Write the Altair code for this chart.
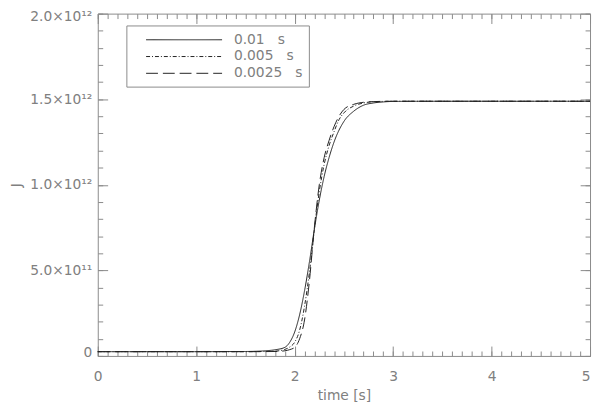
import altair as alt
import pandas as pd

# ---- data ----
series = ["0.01\u00a0\u00a0\u00a0s", "0.005\u00a0\u00a0\u00a0s",
          "0.0025\u00a0\u00a0\u00a0s"]

t_001 = [0, 1.0, 1.5, 1.7, 1.8, 1.9, 1.95, 2.0, 2.05, 2.1, 2.15, 2.2, 2.25, 2.3,
         2.35, 2.4, 2.5, 2.6, 2.7, 2.8, 2.9, 3.0, 3.5, 4.0, 5.0]
j_001 = [0.025, 0.025, 0.026, 0.03, 0.036, 0.05, 0.08, 0.14, 0.24, 0.38, 0.55,
         0.74, 0.91, 1.05, 1.16, 1.25, 1.37, 1.43, 1.465, 1.478, 1.484, 1.487,
         1.488, 1.488, 1.488]

t_0005 = [0, 1.0, 1.5, 1.8, 1.9, 1.95, 2.0, 2.05, 2.1, 2.15, 2.2, 2.25, 2.3, 2.35,
          2.4, 2.45, 2.5, 2.6, 2.7, 2.8, 3.0, 3.5, 5.0]
j_0005 = [0.025, 0.025, 0.025, 0.028, 0.038, 0.052, 0.08, 0.15, 0.29, 0.49, 0.74,
          0.96, 1.12, 1.23, 1.31, 1.38, 1.42, 1.46, 1.478, 1.485, 1.488, 1.488, 1.488]

t_00025 = [0, 1.0, 1.5, 1.8, 1.9, 1.95, 2.0, 2.05, 2.1, 2.15, 2.2, 2.25, 2.3, 2.35,
           2.4, 2.45, 2.5, 2.6, 2.7, 2.8, 3.0, 3.5, 5.0]
j_00025 = [0.025, 0.025, 0.025, 0.026, 0.03, 0.037, 0.05, 0.1, 0.21, 0.44, 0.75,
           1.0, 1.16, 1.26, 1.34, 1.4, 1.44, 1.47, 1.482, 1.486, 1.488, 1.488, 1.488]

x_major = [0, 1, 2, 3, 4, 5]
x_minor = [round(i * 0.1, 1) for i in range(51)]
y_major = [0, 5e11, 1e12, 1.5e12, 2e12]
y_minor = [i * 1e11 for i in range(21)]
y_labels = ["0", "5.0×10¹¹", "1.0×10¹²", "1.5×10¹²", "2.0×10¹²"]

rows = []
for name, ts, js in [(series[0], t_001, j_001), (series[1], t_0005, j_0005),
                     (series[2], t_00025, j_00025)]:
    for t, j in zip(ts, js):
        rows.append({"t": t, "J": j * 1e12, "series": name})
df = pd.DataFrame(rows)

FONT = "DejaVu Sans"
TXT = "#808080"
AX = "#8a8a8a"

ylab_expr = ""
for v, lab in zip(y_major, y_labels):
    ylab_expr += f"datum.value == {v:.0f} ? '{lab}' : "
ylab_expr += "''"

xs = alt.Scale(domain=[0, 5], nice=False, zero=False)
ys = alt.Scale(domain=[0, 2e12], nice=False, zero=False)

common = dict(domain=False, grid=False, tickColor=AX, tickWidth=1,
              labelFont=FONT, labelFontSize=14, labelColor=TXT,
              titleFont=FONT, titleFontSize=14, titleColor=TXT,
              titleFontWeight="normal")

def ax(orient, values, size, labels=False, **kw):
    return alt.Axis(orient=orient, values=values, tickSize=size, offset=-size,
                    labels=labels, **common, **kw)

base = alt.Chart(df)

SYM_R = 7.7  # sqrt(size)/2 -> custom path M-5,0H5 gives a 77px line
lines = base.mark_line(strokeWidth=1, interpolate="monotone").encode(
    x=alt.X("t:Q", scale=xs,
            axis=ax("bottom", x_major, 10, labels=True, labelPadding=14,
                    labelFlush=False,
                    labelAlign=alt.ExprRef(expr="datum.value == 5 ? 'right' : 'center'"),
                    format="d", title="time [s]", titlePadding=5)),
    y=alt.Y("J:Q", scale=ys,
            axis=ax("left", y_major, 10, labels=True, labelPadding=6,
                    labelFlush=True, labelFlushOffset=4,
                    labelExpr=ylab_expr, title="J", titlePadding=6)),
    stroke=alt.value("#222222"),
    strokeDash=alt.StrokeDash(
        "series:N",
        scale=alt.Scale(domain=series, range=[[1, 0], [4, 2, 1, 2], [12, 5]]),
        legend=alt.Legend(title=None, orient="none", legendX=29, legendY=12,
                          symbolType="M-5,0H5", symbolSize=(2 * SYM_R) ** 2,
                          symbolStrokeWidth=1, symbolStrokeColor="#222222",
                          labelFont=FONT, labelFontSize=14, labelColor=TXT,
                          strokeColor=AX, padding=6, rowPadding=1,
                          symbolOffset=44, labelOffset=42)),
    detail="series:N",
)

def ghost(xa, ya):
    return base.mark_line(strokeOpacity=0).encode(
        x=alt.X("t:Q", scale=xs, axis=xa),
        y=alt.Y("J:Q", scale=ys, axis=ya),
        detail="series:N",
    )

g1 = ghost(ax("bottom", x_minor, 5, title=""), ax("left", y_minor, 5, title=""))
g2 = ghost(ax("top", x_major, 10, title=""), ax("right", y_major, 10, title=""))
g3 = ghost(ax("top", x_minor, 5, title=""), ax("right", y_minor, 5, title=""))

chart = alt.layer(lines, g1, g2, g3).resolve_axis(
    x="independent", y="independent"
).properties(
    width=499, height=347,
    autosize=alt.AutoSizeParams(type="none"),
    padding={"left": 91, "top": 3, "right": 2, "bottom": 45},
).configure_view(stroke=AX, strokeWidth=1)

chart.save("out.html", embed_options={"renderer": "svg", "actions": False})
